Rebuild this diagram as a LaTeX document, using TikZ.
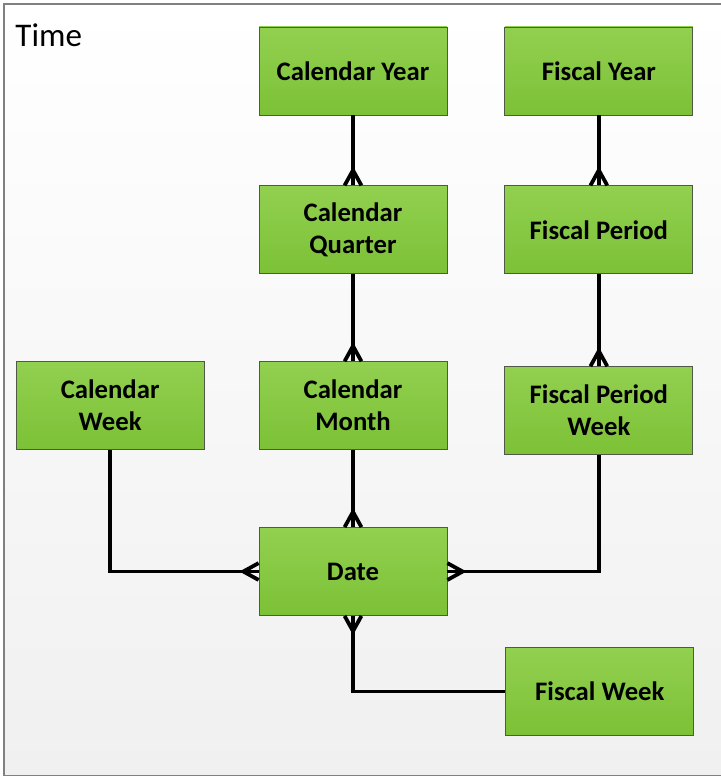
\documentclass[tikz,border=0pt]{standalone}
\usepackage{fontspec}
\setmainfont{Carlito}
\usetikzlibrary{positioning,decorations.markings}

\definecolor{boxtop}{RGB}{146,208,80}
\definecolor{boxbot}{RGB}{124,193,54}
\definecolor{boxline}{RGB}{80,88,72}
\definecolor{framegray}{RGB}{128,128,128}
\definecolor{paperbot}{RGB}{240,240,240}

\begin{document}
\begin{tikzpicture}[
  entity/.style={draw=boxline, line width=0.6pt, top color=boxtop,
                 bottom color=boxbot, minimum width=4.7cm,
                 minimum height=2.2cm, align=center, inner sep=2pt,
                 font=\fontsize{19}{22.8}\selectfont\bfseries},
  link/.style={line width=2.7pt},
  crow/.style={link, postaction={decorate, decoration={markings,
      mark=at position 1 with {\draw[line width=2.7pt]
        (0,0.21) -- (-0.38,0) -- (0,-0.21);}}}}
]

% Frame
\useasboundingbox (0,0) rectangle (18,19.425);
\draw[framegray, line width=1.2pt, top color=white, bottom color=paperbot]
  (0.1,0.04) rectangle (18.3,19.325);
\node[anchor=base west, inner sep=0pt,
      font=\fontsize{23.5}{28}\selectfont] (title) at (0.38,18.25) {Time};

% Calendar branch
\node[entity] (cyear) at (8.825,17.65) {Calendar Year};
\node[entity, below=1.75cm of cyear] (cquarter) {Calendar\\Quarter};
\node[entity, below=2.175cm of cquarter] (cmonth) {Calendar\\Month};
\node[entity, left=1.35cm of cmonth] (cweek) {Calendar\\Week};

% Date
\node[entity, below=1.925cm of cmonth] (date) {Date};

% Fiscal branch
\node[entity, right=1.425cm of cyear] (fyear) {Fiscal Year};
\node[entity, below=1.75cm of fyear] (fperiod) {Fiscal Period};
\node[entity, below=2.3cm of fperiod] (fpweek) {Fiscal Period\\Week};
\node[entity, below right=0.78cm and 1.45cm of date] (fweek) {Fiscal Week};

% One-to-many links
\draw[crow] (cyear) -- (cquarter);
\draw[crow] (cquarter) -- (cmonth);
\draw[crow] (cmonth) -- (date);
\draw[crow] (fyear) -- (fperiod);
\draw[crow] (fperiod) -- (fpweek);
\draw[crow] (cweek) |- (date);
\draw[crow] (fpweek) |- (date);
\draw[crow] (fweek) -| (date);

\end{tikzpicture}
\end{document}
